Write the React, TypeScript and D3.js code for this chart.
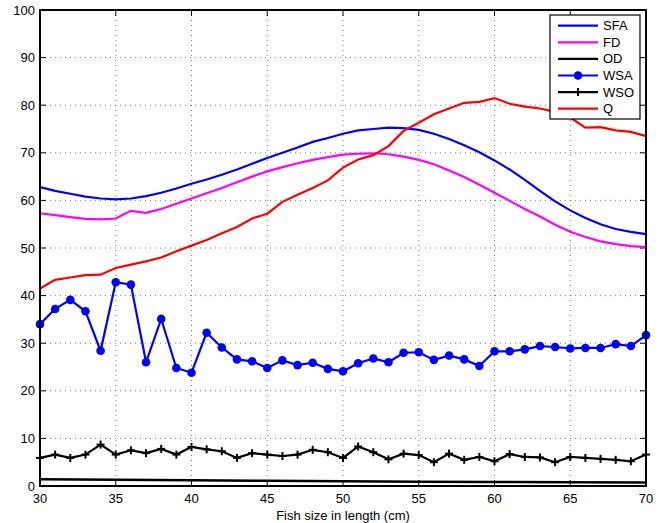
import React from "react";
import * as d3 from "d3";

const xs = d3.range(30, 71);
const sfa = [62.8, 62.0, 61.4, 60.8, 60.4, 60.2, 60.4, 60.9, 61.6, 62.5, 63.5, 64.4, 65.4, 66.5, 67.7, 68.9, 70.0, 71.1, 72.3, 73.1, 74.0, 74.7, 75.0, 75.3, 75.2, 74.8, 74.0, 72.9, 71.6, 70.1, 68.4, 66.5, 64.3, 62.0, 59.8, 57.9, 56.3, 55.0, 54.0, 53.4, 52.9];
const fd = [57.3, 56.9, 56.5, 56.1, 56.0, 56.2, 57.8, 57.4, 58.2, 59.3, 60.4, 61.5, 62.6, 63.8, 65.0, 66.1, 67.0, 67.8, 68.5, 69.1, 69.6, 69.8, 69.9, 69.7, 69.2, 68.5, 67.6, 66.3, 64.9, 63.3, 61.6, 59.9, 58.2, 56.6, 54.9, 53.4, 52.3, 51.4, 50.8, 50.4, 50.2];
const odX = [30, 35, 40, 45, 50, 55, 60, 65, 70];
const od = [1.4, 1.3, 1.2, 1.1, 1.0, 0.9, 0.85, 0.8, 0.75];
const wsa = [34.0, 37.2, 39.1, 36.7, 28.4, 42.8, 42.3, 26.0, 35.1, 24.8, 23.8, 32.2, 29.1, 26.6, 26.2, 24.8, 26.4, 25.4, 25.9, 24.6, 24.1, 25.8, 26.8, 26.0, 28.0, 28.1, 26.5, 27.4, 26.6, 25.2, 28.3, 28.3, 28.7, 29.4, 29.2, 28.9, 29.0, 29.0, 29.8, 29.4, 31.7];
const wso = [5.9, 6.6, 5.9, 6.6, 8.7, 6.6, 7.5, 6.9, 7.8, 6.6, 8.2, 7.7, 7.3, 5.9, 6.9, 6.6, 6.3, 6.6, 7.6, 7.1, 5.9, 8.3, 7.1, 5.6, 6.8, 6.5, 5.0, 6.8, 5.5, 6.1, 5.2, 6.7, 6.1, 6.0, 5.0, 6.1, 5.9, 5.7, 5.5, 5.2, 6.6];
const q = [41.5, 43.3, 43.8, 44.3, 44.4, 45.8, 46.5, 47.2, 48.0, 49.3, 50.5, 51.7, 53.1, 54.4, 56.2, 57.2, 59.7, 61.2, 62.6, 64.2, 66.9, 68.6, 69.5, 71.4, 74.6, 76.3, 78.1, 79.3, 80.5, 80.7, 81.5, 80.3, 79.7, 79.3, 78.6, 77.4, 75.3, 75.4, 74.7, 74.4, 73.5];
const xTicks = [30, 35, 40, 45, 50, 55, 60, 65, 70];
const yTicks = [0, 10, 20, 30, 40, 50, 60, 70, 80, 90, 100];
const legendNames = ["SFA", "FD", "OD", "WSA", "WSO", "Q"];
const legendColors = ["#0000ff", "#ff00ff", "#000000", "#0000ff", "#000000", "#ff0000"];

const W = 660, H = 523;
const L = 40, R = 646, T = 10, B = 486;
const font = "Liberation Sans, Arial, Helvetica, sans-serif";

export default function App() {
  const x = d3.scaleLinear().domain([30, 70]).range([L, R]);
  const y = d3.scaleLinear().domain([0, 100]).range([B, T]);
  const line = d3.line<[number, number]>().x(d => x(d[0])).y(d => y(d[1]));
  const pts = (vals: number[], xv: number[] = xs) => vals.map((v, i) => [xv[i], v] as [number, number]);
  const plus = 4;
  return (
    <svg width={W} height={H} style={{ position: "absolute", left: 0, top: 0, background: "#fff" }}>
      <rect x={0} y={0} width={W} height={H} fill="#fff" />
      {/* grid */}
      {xTicks.slice(1, -1).map(t => (
        <line key={"gx" + t} x1={x(t)} x2={x(t)} y1={T} y2={B} stroke="#555" strokeWidth={0.8} strokeDasharray="1,4" />
      ))}
      {yTicks.slice(1, -1).map(t => (
        <line key={"gy" + t} x1={L} x2={R} y1={y(t)} y2={y(t)} stroke="#555" strokeWidth={0.8} strokeDasharray="1,4" />
      ))}
      {/* ticks */}
      {xTicks.map(t => (
        <g key={"tx" + t}>
          <line x1={x(t)} x2={x(t)} y1={B} y2={B - 6} stroke="#000" />
          <line x1={x(t)} x2={x(t)} y1={T} y2={T + 6} stroke="#000" />
          <text x={x(t)} y={503} textAnchor="middle" fontFamily={font} fontSize={13}>{t}</text>
        </g>
      ))}
      {yTicks.map(t => (
        <g key={"ty" + t}>
          <line x1={L} x2={L + 6} y1={y(t)} y2={y(t)} stroke="#000" />
          <line x1={R} x2={R - 6} y1={y(t)} y2={y(t)} stroke="#000" />
          <text x={35} y={y(t) + 4.5} textAnchor="end" fontFamily={font} fontSize={13}>{t}</text>
        </g>
      ))}
      <text x={(L + R) / 2} y={520} textAnchor="middle" fontFamily={font} fontSize={13}>Fish size in length (cm)</text>
      {/* series */}
      <path d={line(pts(od, odX)) || ""} fill="none" stroke="#000" strokeWidth={2.5} />
      <path d={line(pts(wso)) || ""} fill="none" stroke="#000" strokeWidth={2.2} />
      {pts(wso).map((p, i) => (
        <g key={"wso" + i} stroke="#000" strokeWidth={2}>
          <line x1={x(p[0]) - plus} x2={x(p[0]) + plus} y1={y(p[1])} y2={y(p[1])} />
          <line x1={x(p[0])} x2={x(p[0])} y1={y(p[1]) - plus} y2={y(p[1]) + plus} />
        </g>
      ))}
      <path d={line(pts(wsa)) || ""} fill="none" stroke="#0000ff" strokeWidth={2.2} />
      {pts(wsa).map((p, i) => (
        <circle key={"wsa" + i} cx={x(p[0])} cy={y(p[1])} r={4.3} fill="#0000ff" />
      ))}
      <path d={line(pts(fd)) || ""} fill="none" stroke="#ff00ff" strokeWidth={2.2} />
      <path d={line(pts(sfa)) || ""} fill="none" stroke="#0000ff" strokeWidth={2.2} />
      <path d={line(pts(q)) || ""} fill="none" stroke="#ff0000" strokeWidth={2.2} />
      {/* axes box */}
      <rect x={L} y={T} width={R - L} height={B - T} fill="none" stroke="#000" strokeWidth={2} />
      {/* legend */}
      <g>
        <rect x={550} y={15} width={90} height={104} fill="#fff" stroke="#000" strokeWidth={1.2} />
        {legendNames.map((n, i) => {
          const ly = 25.7 + i * 16.6;
          return (
            <g key={n}>
              <line x1={558} x2={598} y1={ly} y2={ly} stroke={legendColors[i]} strokeWidth={2.2} />
              {n === "WSA" && <circle cx={578} cy={ly} r={4.3} fill="#0000ff" />}
              {n === "WSO" && (
                <line x1={578} x2={578} y1={ly - plus} y2={ly + plus} stroke="#000" strokeWidth={2} />
              )}
              <text x={603} y={ly + 4.5} fontFamily={font} fontSize={13}>{n}</text>
            </g>
          );
        })}
      </g>
    </svg>
  );
}
